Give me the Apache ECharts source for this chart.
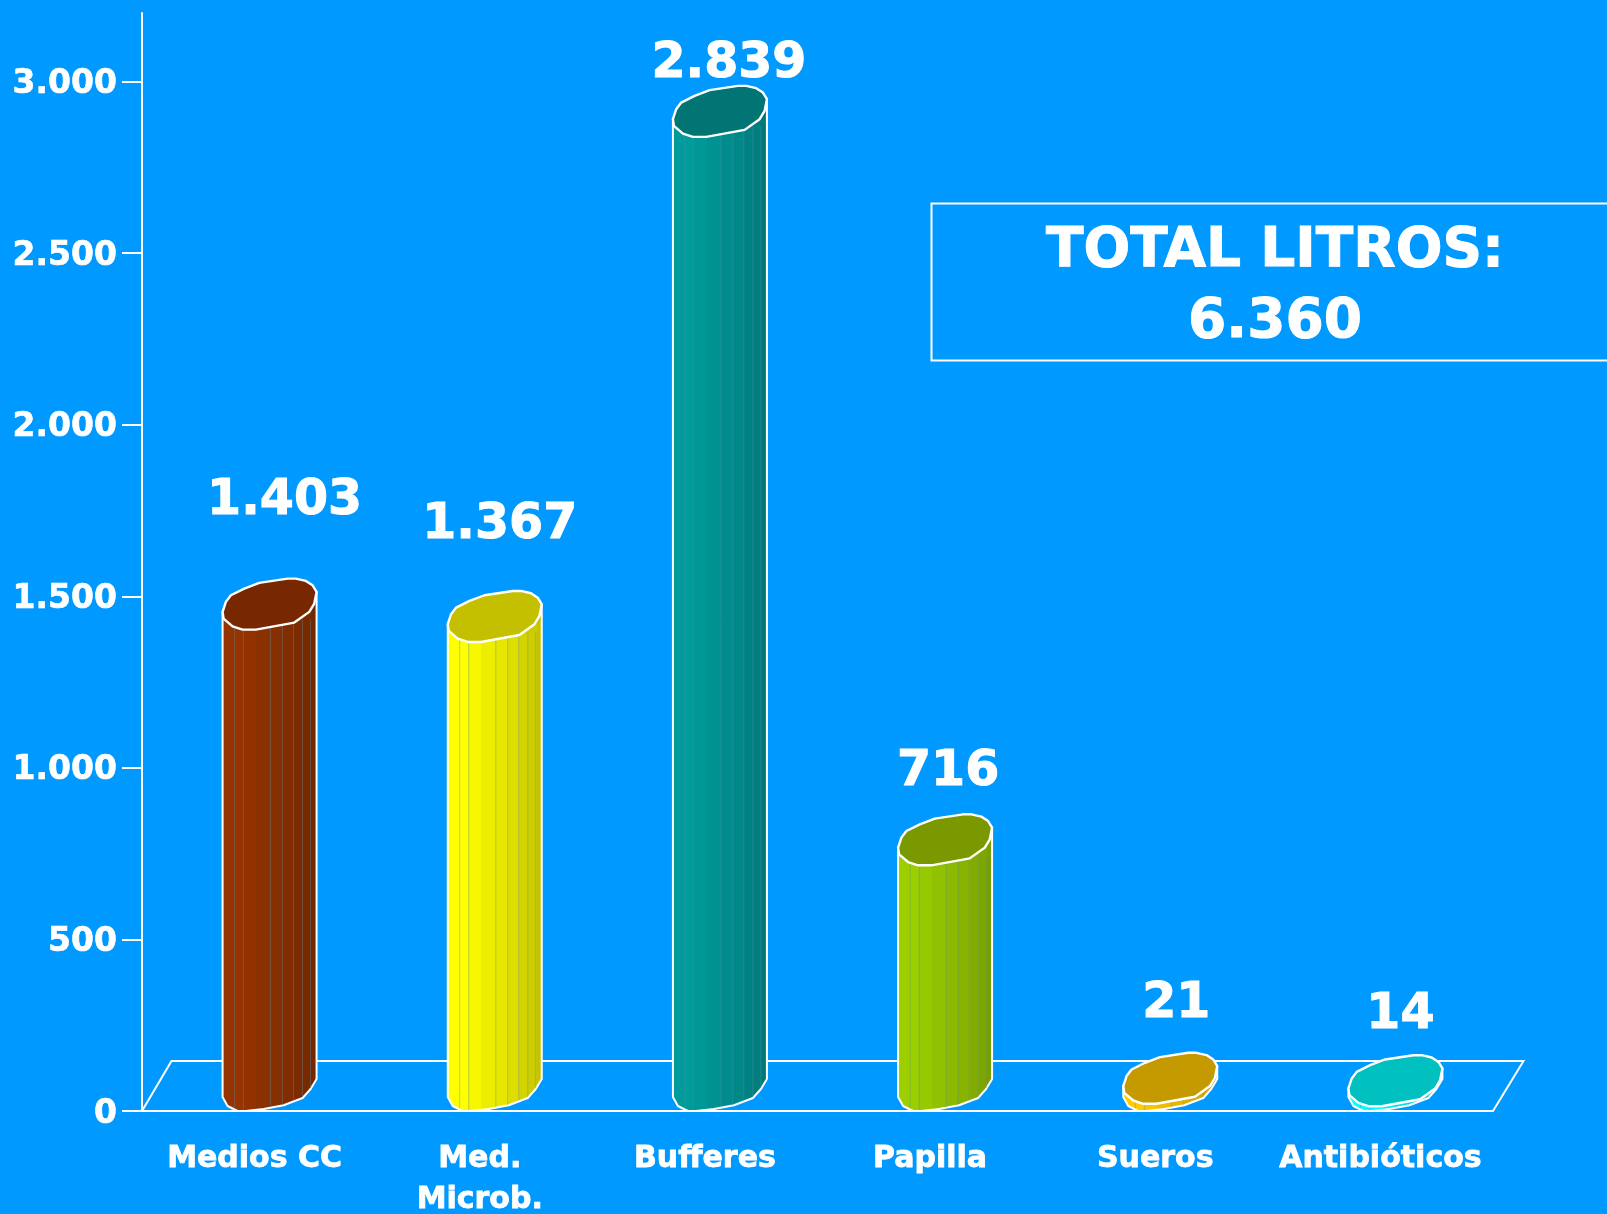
<!DOCTYPE html>
<html>
<head>
<meta charset="utf-8">
<style>html,body{margin:0;padding:0;background:#0099ff;overflow:hidden}#c{width:1607px;height:1214px}</style>
<script src="https://cdn.jsdelivr.net/npm/echarts@6/dist/echarts.min.js"></script>
</head>
<body>
<div id="c"></div>
<script>
const categories = ['Medios CC', 'Med.\nMicrob.', 'Bufferes', 'Papilla', 'Sueros', 'Antibióticos'];
const litros = [1403, 1367, 2839, 716, 21, 14];
const yTicks = [0, 500, 1000, 1500, 2000, 2500, 3000];
const totalText = 'TOTAL LITROS:\n6.360';
const bodyColors = ['#953400', '#ffff00', '#009c9c', '#9ccf00', '#ffcc00', '#00ffff'];
const capColors = ['#772800', '#c4c000', '#007573', '#7a9900', '#c49a00', '#00c0c0'];
// hand placement of each value label relative to its bar: [dx, dy]
const labelNudges = [[30, -128], [20, -117], [24, -73], [18, -93], [21, -100], [20, -91]];

const fmt = v => String(v).replace(/\B(?=(\d{3})+$)/g, '.');
const FONT = '"DejaVu Sans"';
const BAR_W = 94, BAR_SHIFT = -32;
const capShape = [[0,-17.7],[3.3,-27.7],[8.3,-34.3],[21.7,-41],[36.7,-46.7],[65,-51],[73.3,-51],[83.3,-48.7],[90,-44.3],[94,-37.7],[91.7,-26],[86.7,-17.7],[71.7,-7],[33.3,0],[20,0],[10,-3.3],[1,-11]];
const baseShape = [[0,-14],[5,-5],[15,0],[23,0],[41,-2],[61,-5.7],[80,-13],[88,-22],[94,-32]];
const facetEdges = [0,12,21,34,48,60,71,80,88,94];
const facetShade = [1,1,.97,.93,.9,.87,.83,.8,.77];
const seamAt = [12,21,48,60,71,80,88];

function shade(hex, f){
  const n = parseInt(hex.slice(1),16);
  const c = s => Math.round(((n>>s)&255)*f);
  return 'rgb('+c(16)+','+c(8)+','+c(0)+')';
}
function facets(hex){
  const stops = [];
  facetShade.forEach((f,i)=>{
    const col = shade(hex,f);
    stops.push({offset:facetEdges[i]/BAR_W,color:col},{offset:facetEdges[i+1]/BAR_W,color:col});
  });
  return {type:'linear',x:0,y:0,x2:1,y2:0,colorStops:stops};
}
function baseYAt(x){
  for(let i=1;i<baseShape.length;i++){
    const a=baseShape[i-1],b=baseShape[i];
    if(x<=b[0]) return a[1]+(b[1]-a[1])*(x-a[0])/(b[0]-a[0]);
  }
  return baseShape[baseShape.length-1][1];
}
function renderCylinder(params, api){
  const i = api.value(0), v = api.value(1);
  const top = api.coord([i, v]);
  const y0 = api.coord([i, 0])[1];
  const left = top[0] + BAR_SHIFT, y = top[1];
  const bodyPts = [[left, y-17.7]]
    .concat(baseShape.map(p=>[left+p[0], y0+p[1]]))
    .concat([[left+BAR_W, y-37.7]]);
  const children = [{
    type:'polygon', shape:{points:bodyPts},
    style:{fill:facets(bodyColors[i]), stroke:'#fff', lineWidth:2, lineJoin:'round'}
  }];
  seamAt.forEach(sx=>{
    const yb = y0+baseYAt(sx)-1, yt = y-10;
    if(yb>yt) children.push({type:'line',shape:{x1:left+sx,y1:yt,x2:left+sx,y2:yb},
      style:{stroke:'rgba(90,140,160,0.4)',lineWidth:1}});
  });
  children.push({
    type:'polygon', shape:{points:capShape.map(p=>[left+p[0], y+p[1]])},
    style:{fill:capColors[i], stroke:'#fff', lineWidth:2.4, lineJoin:'round'}
  });
  const n = labelNudges[i];
  children.push({
    type:'text', x:top[0]+n[0], y:y+n[1],
    style:{text:fmt(v), fill:'#fff', font:'bold 49px '+FONT, align:'center', verticalAlign:'middle',
      stroke:'#fff', lineWidth:1}
  });
  return {type:'group', children};
}
function renderFloor(params){
  const g = params.coordSys, dx=29.5, dy=50;
  const b = g.y+g.height, l=g.x, r=g.x+g.width;
  return {type:'polyline', shape:{points:[[l,b],[l+dx,b-dy],[r+dx+1,b-dy],[r,b]]},
    style:{fill:null, stroke:'#fff', lineWidth:2}};
}

const chart = echarts.init(document.getElementById('c'), null, {renderer:'canvas'});
chart.setOption({
  animation:false,
  backgroundColor:'#0099ff',
  textStyle:{fontFamily:FONT},
  grid:{left:142,right:114,top:13,bottom:103,containLabel:false,outerBoundsMode:'none'},
  xAxis:{
    type:'category', data:categories,
    axisLine:{lineStyle:{color:'#fff',width:2}},
    axisTick:{show:false},
    axisLabel:{color:'#fff',fontFamily:FONT,fontWeight:'bold',fontSize:30,lineHeight:41,margin:28,interval:0,
      textBorderColor:'#fff',textBorderWidth:0.8}
  },
  yAxis:{
    type:'value', min:0, max:3200,
    splitLine:{show:false},
    axisLine:{show:true,lineStyle:{color:'#fff',width:2}},
    axisTick:{show:true,length:20,lineStyle:{color:'#fff',width:2},customValues:yTicks},
    axisLabel:{color:'#fff',fontFamily:FONT,fontWeight:'bold',fontSize:33,margin:25,customValues:yTicks,
      formatter:v=>'{t|'+fmt(v)+'}',
      rich:{t:{color:'#fff',fontFamily:FONT,fontWeight:'bold',fontSize:33,padding:[6,0,0,0],textBorderColor:'#fff',textBorderWidth:0.6}}}
  },
  series:[
    {type:'custom',silent:true,coordinateSystem:'cartesian2d',clip:false,z:1,renderItem:renderFloor,data:[[0,0]]},
    {type:'custom',silent:true,coordinateSystem:'cartesian2d',clip:false,z:2,renderItem:renderCylinder,
      encode:{x:0,y:1},data:litros.map((v,i)=>[i,v])}
  ],
  graphic:[
    {type:'rect',left:929,top:201,shape:{width:720,height:157},style:{fill:'none',stroke:'#fff',lineWidth:2},silent:true},
    {type:'text',x:1275,y:287,style:{text:totalText,fill:'#fff',font:'bold 55px '+FONT,lineHeight:71,align:'center',verticalAlign:'middle',stroke:'#fff',lineWidth:1},silent:true}
  ]
});
</script>
</body>
</html>
